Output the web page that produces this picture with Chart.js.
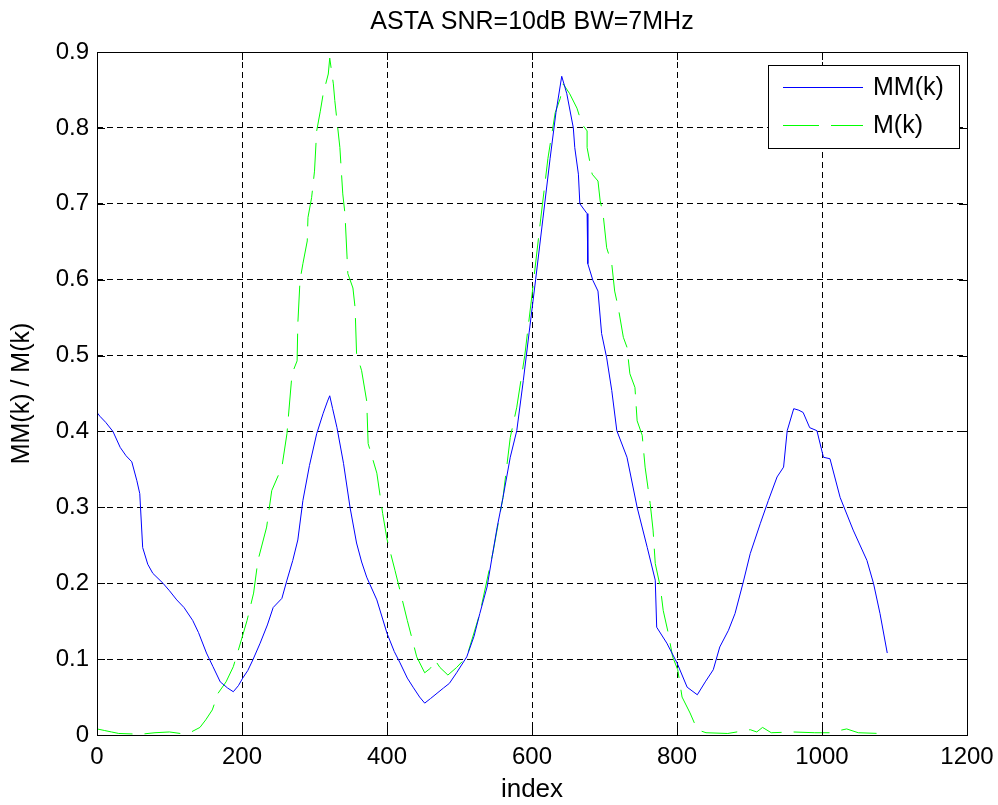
<!DOCTYPE html>
<html>
<head>
<meta charset="utf-8">
<script src="https://cdn.jsdelivr.net/npm/chart.js@4"></script>
<style>
  html, body { margin: 0; padding: 0; background: #fff; }
</style>
</head>
<body>
<canvas id="chart" width="998" height="805"></canvas>
<script>
const chartTitle = "ASTA SNR=10dB BW=7MHz";
const xTicks = [0, 200, 400, 600, 800, 1000, 1200];
const yTicks = [0, 0.1, 0.2, 0.3, 0.4, 0.5, 0.6, 0.7, 0.8, 0.9];

// MM(k), solid blue
const mmIndex = [0, 4, 12, 22, 32, 40, 48, 55, 59, 63, 70, 77, 91, 100, 110, 120, 132, 140, 151, 160,
  170, 180, 188, 195, 201, 208, 215, 225, 235, 243, 255, 262, 270, 277, 284, 293, 303, 312, 318, 321,
  325, 331, 340, 349, 358, 365, 372, 386, 400, 410, 418, 428, 436, 445, 452, 460, 469, 478, 486, 496,
  510, 520, 528, 538, 545, 552, 560, 570, 579, 588, 596, 605, 615, 625, 633, 641, 648, 657, 659, 664,
  666, 676, 677, 684, 691, 696, 703, 710, 717, 731, 745, 759, 770, 772, 786, 800, 814, 828, 839, 850,
  859, 871, 880, 891, 901, 915, 926, 938, 947, 952, 961, 968, 974, 983, 993, 1002, 1011, 1025, 1043, 1062,
  1071, 1080, 1090];
const mmValues = [0.425, 0.42, 0.412, 0.40, 0.379, 0.368, 0.36, 0.335, 0.318, 0.247, 0.225, 0.213, 0.20, 0.19, 0.178, 0.168, 0.151, 0.135, 0.108, 0.09,
  0.07, 0.062, 0.057, 0.065, 0.075, 0.085, 0.099, 0.121, 0.145, 0.168, 0.18, 0.204, 0.23, 0.257, 0.309, 0.355, 0.397, 0.424, 0.44, 0.447,
  0.43, 0.405, 0.358, 0.30, 0.253, 0.228, 0.208, 0.178, 0.134, 0.11, 0.095, 0.075, 0.063, 0.05, 0.042, 0.048, 0.055, 0.062, 0.068, 0.082,
  0.103, 0.13, 0.16, 0.195, 0.235, 0.274, 0.313, 0.366, 0.401, 0.467, 0.53, 0.60, 0.68, 0.76, 0.82, 0.868, 0.845, 0.80, 0.774, 0.739,
  0.70, 0.687, 0.621, 0.599, 0.585, 0.529, 0.497, 0.454, 0.401, 0.366, 0.30, 0.247, 0.204, 0.142, 0.121, 0.095, 0.063, 0.053, 0.07, 0.086,
  0.116, 0.138, 0.16, 0.20, 0.239, 0.279, 0.309, 0.34, 0.353, 0.401, 0.43, 0.428, 0.425, 0.405, 0.401, 0.366, 0.364, 0.313, 0.27, 0.23,
  0.20, 0.16, 0.108];

// M(k), dashed green
const mIndex = [0, 10, 20, 30, 60, 80, 100, 115, 128, 142, 150, 159, 167, 178, 188, 195, 207, 216, 222, 234,
  241, 255, 262, 269, 276, 277, 280, 284, 290, 291, 296, 300, 303, 308, 312, 319, 321, 326, 328, 335,
  339, 342, 346, 353, 356, 358, 365, 372, 374, 386, 394, 400, 411, 418, 428, 434, 441, 452, 460, 466,
  473, 484, 496, 510, 528, 546, 560, 570, 579, 590, 600, 612, 622, 632, 639, 643, 652, 662, 669, 676,
  676, 683, 691, 694, 698, 703, 710, 714, 719, 726, 731, 735, 742, 745, 752, 756, 763, 767, 770, 777,
  781, 788, 794, 801, 807, 818, 828, 840, 870, 901, 910, 918, 930, 960, 990, 1010, 1034, 1050, 1080, 1090];
const mValues = [0.008, 0.006, 0.004, 0.002, 0.001, 0.003, 0.004, 0.002, 0.003, 0.01, 0.02, 0.033, 0.055, 0.07, 0.09, 0.112, 0.151, 0.187, 0.23, 0.274,
  0.322, 0.353, 0.397, 0.476, 0.493, 0.542, 0.599, 0.621, 0.651, 0.682, 0.708, 0.743, 0.796, 0.822, 0.845, 0.871, 0.892, 0.858, 0.836, 0.774,
  0.713, 0.687, 0.608, 0.589, 0.563, 0.503, 0.48, 0.44, 0.384, 0.345, 0.292, 0.258, 0.217, 0.19, 0.151, 0.129, 0.103, 0.082, 0.088, 0.099,
  0.089, 0.079, 0.089, 0.103, 0.16, 0.24, 0.313, 0.392, 0.432, 0.50, 0.58, 0.68, 0.76, 0.82, 0.839, 0.858, 0.845, 0.826, 0.805, 0.796,
  0.774, 0.739, 0.73, 0.704, 0.687, 0.642, 0.621, 0.585, 0.563, 0.524, 0.511, 0.476, 0.458, 0.414, 0.395, 0.353, 0.305, 0.27, 0.226, 0.195,
  0.164, 0.134, 0.103, 0.086, 0.05, 0.029, 0.007, 0.003, 0.002, 0.007, 0.004, 0.01, 0.003, 0.004, 0.003, 0.003, 0.008, 0.003, 0.002, 0.007];

const FONT = "'Liberation Sans', Arial, sans-serif";

function toPoints(xs, ys) {
  return xs.map((x, i) => ({ x: x, y: ys[i] }));
}

// matlab style box, inward ticks and boxed legend
const axesBox = {
  id: "axesBox",
  afterDraw(chart) {
    const { ctx, chartArea: a } = chart;
    const xs = chart.scales.x, ys = chart.scales.y;
    ctx.save();
    ctx.strokeStyle = "#000";
    ctx.lineWidth = 1;
    ctx.setLineDash([]);
    ctx.strokeRect(a.left + 0.5, a.top + 0.5, a.right - a.left, a.bottom - a.top);
    ctx.beginPath();
    xTicks.forEach(v => {
      const px = Math.round(xs.getPixelForValue(v)) + 0.5;
      ctx.moveTo(px, a.bottom); ctx.lineTo(px, a.bottom - 8);
      ctx.moveTo(px, a.top); ctx.lineTo(px, a.top + 8);
    });
    yTicks.forEach(v => {
      const py = Math.round(ys.getPixelForValue(v)) + 0.5;
      ctx.moveTo(a.left, py); ctx.lineTo(a.left + 8, py);
      ctx.moveTo(a.right, py); ctx.lineTo(a.right - 8, py);
    });
    ctx.stroke();

    // legend
    const lx = a.right - 199, ly = a.top + 13, lw = 191, lh = 83;
    ctx.fillStyle = "#fff";
    ctx.fillRect(lx, ly, lw, lh);
    ctx.strokeRect(lx + 0.5, ly + 0.5, lw, lh);
    ctx.font = "25px " + FONT;
    ctx.textBaseline = "middle";
    chart.data.datasets.forEach((ds, i) => {
      const y = ly + 22 + i * 38 + 0.5;
      ctx.beginPath();
      ctx.strokeStyle = ds.borderColor;
      ctx.setLineDash(ds.borderDash || []);
      ctx.moveTo(lx + 15, y);
      ctx.lineTo(lx + 95, y);
      ctx.stroke();
      ctx.setLineDash([]);
      ctx.fillStyle = "#000";
      ctx.fillText(ds.label, lx + 105, y + 1);
    });
    ctx.restore();
  }
};

new Chart(document.getElementById("chart"), {
  type: "scatter",
  data: {
    datasets: [
      {
        label: "MM(k)",
        data: toPoints(mmIndex, mmValues),
        showLine: true,
        borderColor: "#0000ff",
        borderWidth: 1,
        pointRadius: 0,
        tension: 0
      },
      {
        label: "M(k)",
        data: toPoints(mIndex, mValues),
        showLine: true,
        borderColor: "#00ff00",
        borderWidth: 1,
        borderDash: [36, 12],
        pointRadius: 0,
        tension: 0
      }
    ]
  },
  options: {
    responsive: false,
    animation: false,
    layout: { padding: { left: 0, right: 31, top: 0, bottom: 0 } },
    plugins: {
      legend: { display: false },
      tooltip: { enabled: false },
      title: {
        display: true,
        text: chartTitle,
        fullSize: false,
        color: "#000",
        font: { family: FONT, size: 25, weight: "normal" },
        padding: { top: 7, bottom: 15 }
      }
    },
    scales: {
      x: {
        type: "linear",
        min: 0,
        max: 1200,
        afterFit: s => { s.height = 70; s.paddingLeft = 0; s.paddingRight = 0; },
        afterBuildTicks: s => { s.ticks = xTicks.map(v => ({ value: v })); },
        ticks: {
          color: "#000",
          padding: 8,
          maxRotation: 0,
          font: { family: FONT, size: 24 },
          callback: v => String(v)
        },
        grid: { color: "#000", lineWidth: 1, drawTicks: false },
        border: { display: false, dash: [6, 4] },
        title: {
          display: true,
          text: "index",
          color: "#000",
          font: { family: FONT, size: 26 },
          padding: { top: 0, bottom: 0 }
        }
      },
      y: {
        type: "linear",
        min: 0,
        max: 0.9,
        afterFit: s => { s.width = 97; },
        afterBuildTicks: s => { s.ticks = yTicks.map(v => ({ value: v })); },
        ticks: {
          color: "#000",
          padding: 8,
          font: { family: FONT, size: 24 },
          callback: v => String(Number(v.toFixed(1)))
        },
        grid: { color: "#000", lineWidth: 1, drawTicks: false },
        border: { display: false, dash: [6, 4] },
        title: {
          display: true,
          text: "MM(k) / M(k)",
          color: "#000",
          font: { family: FONT, size: 25 },
          padding: { top: 7, bottom: 0 }
        }
      }
    }
  },
  plugins: [axesBox]
});
</script>
</body>
</html>
